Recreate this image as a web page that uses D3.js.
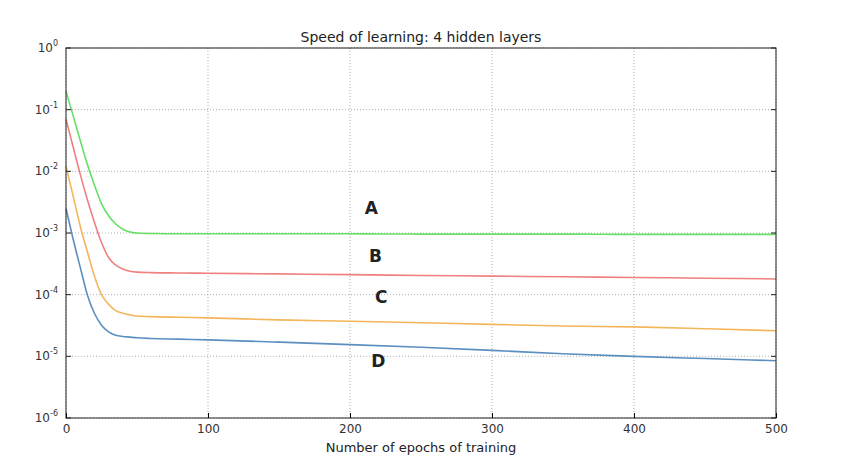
<!DOCTYPE html>
<html><head><meta charset="utf-8">
<script src="https://cdn.jsdelivr.net/npm/d3@7"></script>
<style>body{margin:0;background:#fff;font-family:"DejaVu Sans",sans-serif}</style>
</head><body><svg id="c" width="844" height="465"></svg>
<script>
const epochs = [0,5,10,15,20,25,30,35,40,45,50,60,80,100,150,200,250,300,350,400,450,500];
const seriesA = [0.2,0.08,0.032,0.013,0.006,0.003,0.0019,0.0014,0.00115,0.00104,0.001,0.00098,0.00097,0.00097,0.00097,0.00097,0.00096,0.00096,0.00096,0.00095,0.00095,0.00095];
const seriesB = [0.07,0.025,0.009,0.0035,0.0015,0.0007,0.0004,0.0003,0.00026,0.00024,0.000232,0.000228,0.000225,0.000222,0.000217,0.000211,0.000205,0.0002,0.000195,0.00019,0.000185,0.00018];
const seriesC = [0.012,0.004,0.0013,0.0005,0.0002,0.0001,0.00007,0.000055,0.00005,0.000047,0.000045,0.000044,0.000043,0.000042,0.000039,0.000037,0.000035,0.000033,0.000031,0.00003,0.000028,0.000026];
const seriesD = [0.0025,0.0008,0.00028,0.0001,0.00005,0.000032,0.000025,0.000022,0.000021,0.0000205,0.00002,0.0000195,0.000019,0.0000185,0.000017,0.0000155,0.000014,0.0000125,0.000011,0.00001,0.0000092,0.0000085];
const names = ["A","B","C","D"];
const colors = ["#66e066","#f08080","#f5b55a","#5b8fc0"];
const labelX = [215,218,222,220];
const labelY = [0.0025,0.00043,0.00009,0.0000085];
const xTicks = [0,100,200,300,400,500];
const yExp = [0,-1,-2,-3,-4,-5,-6];

const svg = d3.select("#c");
const L=66,R=776,T=48,B=418;
const x = d3.scaleLinear().domain([0,500]).range([L,R]);
const y = d3.scaleLog().domain([1e-6,1]).range([B,T]);
const g = svg.append("g");
g.selectAll(".gx").data(xTicks).join("line").attr("x1",d=>x(d)).attr("x2",d=>x(d)).attr("y1",T).attr("y2",B)
 .attr("stroke","#999").attr("stroke-dasharray","1,2").attr("stroke-width",0.8);
g.selectAll(".gy").data(yExp).join("line").attr("y1",d=>y(10**d)).attr("y2",d=>y(10**d)).attr("x1",L).attr("x2",R)
 .attr("stroke","#999").attr("stroke-dasharray","1,2").attr("stroke-width",0.8);
const all=[seriesA,seriesB,seriesC,seriesD];
const line=d3.line().x((d,i)=>x(epochs[i])).y(d=>y(d)).curve(d3.curveMonotoneX);
all.forEach((s,k)=>g.append("path").attr("d",line(s)).attr("fill","none").attr("stroke",colors[k]).attr("stroke-width",1.6));
g.append("rect").attr("x",L).attr("y",T).attr("width",R-L).attr("height",B-T).attr("fill","none").attr("stroke","#222");
const xa=d3.axisBottom(x).tickValues(xTicks).tickSize(-5).tickPadding(6);
g.append("g").attr("transform",`translate(0,${B})`).call(xa).call(a=>{a.select(".domain").remove();a.selectAll("text").attr("font-size",12).attr("fill","#333").attr("font-family","DejaVu Sans");});
const ya=g.append("g");
yExp.forEach(e=>{
  const yy=y(10**e);
  ya.append("line").attr("x1",L).attr("x2",L+5).attr("y1",yy).attr("y2",yy).attr("stroke","#222");
  ya.append("line").attr("x1",R).attr("x2",R-5).attr("y1",yy).attr("y2",yy).attr("stroke","#222");
  const t=ya.append("text").attr("x",L-8).attr("y",yy+4).attr("text-anchor","end").attr("font-size",12).attr("fill","#333");
  t.append("tspan").text("10");
  t.append("tspan").attr("dy",-6).attr("font-size",8).text(e);
});
names.forEach((n,k)=>g.append("text").attr("x",x(labelX[k])).attr("y",y(labelY[k])+6).attr("text-anchor","middle")
  .attr("font-size",17).attr("font-weight","bold").attr("fill","#222").text(n));
svg.append("text").attr("x",(L+R)/2).attr("y",T-6).attr("text-anchor","middle").attr("font-size",14).attr("fill","#222").text("Speed of learning: 4 hidden layers");
svg.append("text").attr("x",(L+R)/2).attr("y",452).attr("text-anchor","middle").attr("font-size",13).attr("fill","#222").text("Number of epochs of training");
</script></body></html>
